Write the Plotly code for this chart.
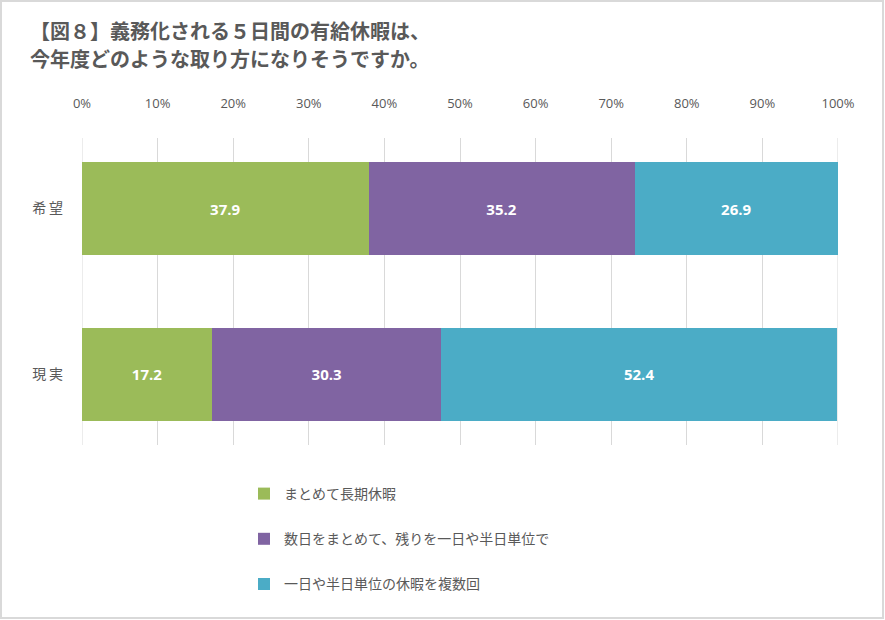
import plotly.graph_objects as go

categories = ["希望", "現実"]
cat_labels = ["希\u2009望", "現\u2009実"]
series_names = ["まとめて長期休暇", "数日をまとめて、残りを一日や半日単位で", "一日や半日単位の休暇を複数回"]
series_values = [
    [37.9, 17.2],
    [35.2, 30.3],
    [26.9, 52.4],
]
colors = ["#9BBB59", "#8064A2", "#4BACC6"]
tick_vals = [0, 10, 20, 30, 40, 50, 60, 70, 80, 90, 100]
tick_text = ["0%", "10%", "20%", "30%", "40%", "50%", "60%", "70%", "80%", "90%", "100%"]
title_lines = ["【図８】義務化される５日間の有給休暇は、", "今年度どのような取り方になりそうですか。"]

W, H = 885, 620
L, R, T, B = 82, 47, 138, 175
font_family = "Noto Sans CJK JP, Noto Sans, sans-serif"
pw = W - L - R
ph = H - T - B


def px_x(x):
    return (x - L) / pw


def px_y(y):
    return (H - B - y) / ph


fig = go.Figure()
for i, (name, vals) in enumerate(zip(series_names, series_values)):
    fig.add_trace(go.Bar(
        y=categories, x=vals, name=name, orientation="h",
        marker=dict(color=colors[i], line=dict(width=0)),
        width=0.56,
        text=[f"{v:.1f}" for v in vals], textposition="inside",
        insidetextanchor="middle",
        textfont=dict(color="white", size=15, family="Open Sans, Noto Sans CJK JP, sans-serif", weight="bold"),
        legendgroup=f"g{i}",
    ))

fig.add_shape(type="rect", xref="paper", yref="paper",
              x0=px_x(1), x1=px_x(W - 2), y0=px_y(H - 2), y1=px_y(1),
              line=dict(color="#D9D9D9", width=2), layer="below")

# gridlines at the axis ends (plotly omits those at the plot edges)
for edge in (tick_vals[0], tick_vals[-1]):
    fig.add_shape(type="line", xref="x", yref="paper", x0=edge, x1=edge, y0=0, y1=1,
                  line=dict(color="#D9D9D9", width=1), layer="below")

for line, yc in zip(title_lines, [30, 58]):
    fig.add_annotation(text=line, xref="paper", yref="paper",
                       x=px_x(28), y=px_y(yc), xanchor="left", yanchor="middle",
                       showarrow=False, align="left",
                       font=dict(size=20, color="#595959", family=font_family, weight="bold"))

fig.update_layout(
    width=W, height=H,
    margin=dict(l=L, r=R, t=T, b=B, pad=0, autoexpand=False),
    barmode="stack",
    plot_bgcolor="white", paper_bgcolor="white",
    font=dict(family=font_family, color="#595959"),
    xaxis=dict(side="top", range=[0, 100], tickvals=tick_vals, ticktext=tick_text,
               showgrid=True, gridcolor="#D9D9D9", gridwidth=1, zeroline=False,
               showline=False, ticks="", ticklabelstandoff=26,
               tickfont=dict(size=13, color="#595959", family="Open Sans, sans-serif"),
               fixedrange=True),
    yaxis=dict(categoryorder="array", categoryarray=categories,
               tickvals=categories, ticktext=cat_labels,
               range=[1.425, -0.425], showgrid=False, zeroline=False, showline=False,
               ticks="", ticklabelstandoff=18,
               tickfont=dict(size=14, color="#595959", family=font_family)),
    showlegend=True,
    legend=dict(orientation="v", x=px_x(244), xanchor="left",
                y=px_y(478), yanchor="top",
                traceorder="grouped", tracegroupgap=24,
                font=dict(size=14, color="#595959", family=font_family),
                bgcolor="rgba(0,0,0,0)", itemwidth=30),
)

fig.write_html("out.html", config={"displayModeBar": False},
               post_script="document.body.style.margin='0';")
